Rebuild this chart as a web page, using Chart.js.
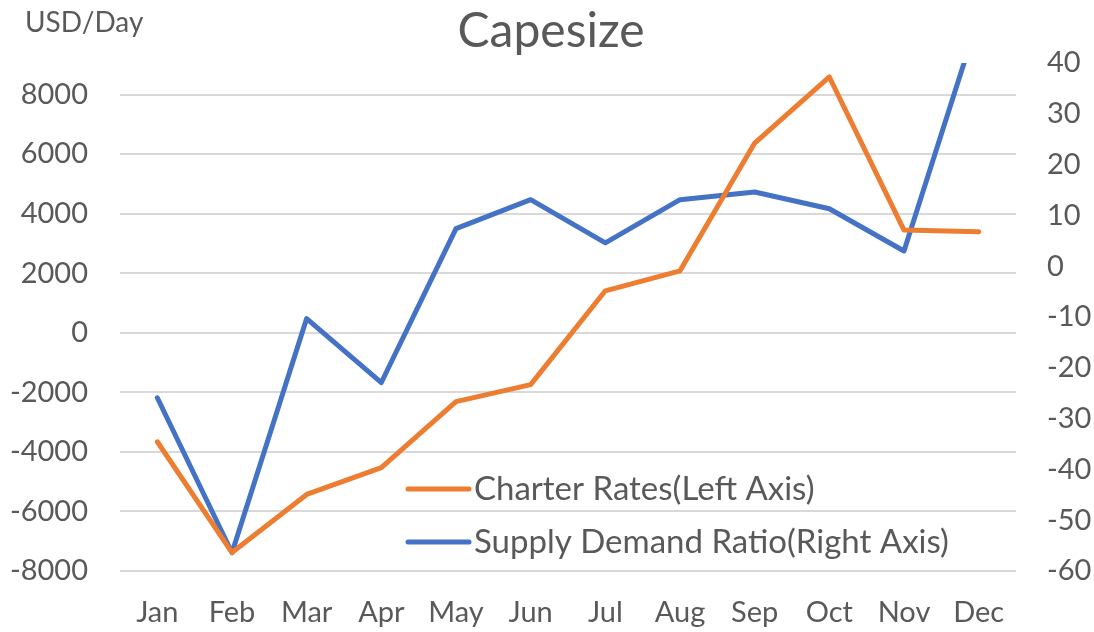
<!DOCTYPE html>
<html>
<head>
<meta charset="utf-8">
<script src="https://cdn.jsdelivr.net/npm/chart.js@4.4.1/dist/chart.umd.min.js"></script>
<style>
  html, body { margin: 0; padding: 0; background: #fff; }
  #wrap { width: 1094px; height: 632px; }
</style>
</head>
<body>
<div id="wrap"><canvas id="capeChart" width="1094" height="632"></canvas></div>
<script>
const months = ['Jan', 'Feb', 'Mar', 'Apr', 'May', 'Jun', 'Jul', 'Aug', 'Sep', 'Oct', 'Nov', 'Dec'];
const charterRates = [-3660, -7380, -5430, -4530, -2310, -1740, 1410, 2080, 6370, 8590, 3450, 3390];
const supplyDemand = [-25.9, -56.4, -10.3, -22.9, 7.4, 13.1, 4.6, 13.1, 14.6, 11.3, 3.0, 49];
const leftTicks = [-8000, -6000, -4000, -2000, 0, 2000, 4000, 6000, 8000];
const rightTicks = [-60, -50, -40, -30, -20, -10, 0, 10, 20, 30, 40];
const seriesNames = ['Charter Rates(Left Axis)', 'Supply Demand Ratio(Right Axis)'];
const seriesColors = ['#ED7D31', '#4472C4'];

const FONT = 'Lato';
const TEXT = '#595959';

// title, unit label and the in-plot legend are drawn by hand
const decorations = {
  id: 'decorations',
  afterDraw(chart) {
    const ctx = chart.ctx;
    ctx.save();
    ctx.fillStyle = TEXT;
    ctx.textBaseline = 'alphabetic';

    ctx.font = '48px ' + FONT;
    ctx.textAlign = 'center';
    ctx.fillText('Capesize', 551, 47);

    ctx.font = '28px ' + FONT;
    ctx.textAlign = 'left';
    ctx.fillText('USD/Day', 25, 32);

    ctx.font = '33px ' + FONT;
    chart.data.datasets.forEach((ds, i) => {
      const y = 489 + i * 53;
      ctx.strokeStyle = ds.borderColor;
      ctx.lineWidth = 5;
      ctx.lineCap = 'round';
      ctx.beginPath();
      ctx.moveTo(408, y);
      ctx.lineTo(469, y);
      ctx.stroke();
      ctx.fillText(ds.label, 474, y + 11);
    });
    ctx.restore();
  }
};

const asTicks = (list) => (s) => { s.ticks = list.map(v => ({ value: v })); };

new Chart(document.getElementById('capeChart'), {
  type: 'line',
  data: {
    labels: months,
    datasets: [
      {
        label: seriesNames[0],
        data: charterRates,
        yAxisID: 'yLeft',
        borderColor: seriesColors[0],
        backgroundColor: seriesColors[0],
        borderWidth: 5,
        pointRadius: 0,
        borderJoinStyle: 'round',
        borderCapStyle: 'round',
        tension: 0,
        clip: 0
      },
      {
        label: seriesNames[1],
        data: supplyDemand,
        yAxisID: 'yRight',
        borderColor: seriesColors[1],
        backgroundColor: seriesColors[1],
        borderWidth: 5,
        pointRadius: 0,
        borderJoinStyle: 'round',
        borderCapStyle: 'round',
        tension: 0,
        clip: 0
      }
    ]
  },
  options: {
    responsive: false,
    animation: false,
    layout: { padding: { top: 63, left: 0, right: 0, bottom: 0 } },
    plugins: {
      legend: { display: false },
      title: { display: false },
      tooltip: { enabled: false }
    },
    scales: {
      x: {
        offset: true,
        grid: { display: false, drawTicks: false },
        border: { display: false },
        ticks: { color: TEXT, font: { family: FONT, size: 29 }, padding: 24, maxRotation: 0, autoSkip: false },
        afterFit: (s) => { s.height = 61; }
      },
      yLeft: {
        position: 'left',
        min: -8000,
        max: 9060,
        afterBuildTicks: asTicks(leftTicks),
        grid: { color: '#D9D9D9', lineWidth: 2, drawTicks: false },
        border: { display: false },
        ticks: { color: TEXT, font: { family: FONT, size: 29 }, padding: 32, callback: (v) => String(v) },
        afterFit: (s) => { s.width = 120; }
      },
      yRight: {
        position: 'right',
        min: -60,
        max: 40,
        afterBuildTicks: asTicks(rightTicks),
        grid: { display: false, drawTicks: false },
        border: { display: false },
        ticks: { color: TEXT, font: { family: FONT, size: 29 }, padding: 31, callback: (v) => String(v) },
        afterFit: (s) => { s.width = 78; }
      }
    }
  },
  plugins: [decorations]
});
</script>
</body>
</html>
